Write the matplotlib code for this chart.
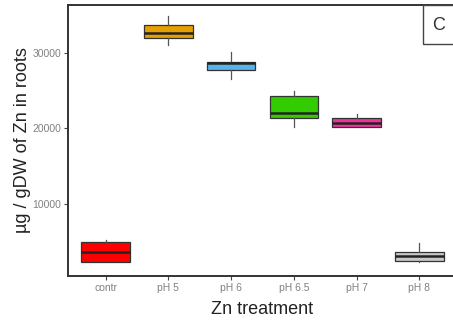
import matplotlib
matplotlib.use("Agg")
import matplotlib.pyplot as plt
from matplotlib.patches import Rectangle

# values (µg / gDW)
treatments = ["contr", "pH 5", "pH 6", "pH 6.5", "pH 7", "pH 8"]
whisk_lo = [2350, 31060, 26570, 20160, 20200, 2450]
q1 = [2430, 31940, 27760, 21420, 20200, 2560]
median = [3750, 32560, 28600, 22080, 20690, 3180]
q3 = [4990, 33610, 28810, 24290, 21420, 3750]
whisk_hi = [5290, 34840, 30050, 24910, 21910, 4850]
colors = ["#FF0000", "#E69F00", "#56B4E9", "#33CC00", "#EE3399", "#C8C8C8"]

plt.rcParams["font.family"] = ["Liberation Sans", "DejaVu Sans"]

fig = plt.figure(figsize=(4.53, 3.29), dpi=100)
W, H = 453, 329
# axes: left 68px, right ~457px (cut by the image edge), top 5px, bottom 276px
ax = fig.add_axes([68 / W, (H - 276) / H, (457 - 68) / W, (276 - 5) / H])

stats = []
for i, name in enumerate(treatments):
    stats.append(dict(label=name, whislo=whisk_lo[i], q1=q1[i], med=median[i],
                      q3=q3[i], whishi=whisk_hi[i], fliers=[]))

positions = list(range(1, len(treatments) + 1))
bp = ax.bxp(stats, positions=positions, widths=0.77, patch_artist=True,
            showcaps=False,
            boxprops=dict(edgecolor="#333333", linewidth=0.9),
            medianprops=dict(color="#222222", linewidth=1.8),
            whiskerprops=dict(color="#555555", linewidth=0.9))
for patch, c in zip(bp["boxes"], colors):
    patch.set_facecolor(c)

ax.set_xlim(0.4, 6.6)
ax.set_ylim(540, 36290)
ax.set_yticks([10000, 20000, 30000])
ax.set_xticks(positions)
ax.set_xticklabels(treatments)

ax.tick_params(axis="both", labelsize=7.5, labelcolor="#808080", color="#444444",
               length=3, width=0.8, pad=2)
for s in ax.spines.values():
    s.set_color("#333333")
    s.set_linewidth(1.4)

ax.set_xlabel("Zn treatment", fontsize=13, color="#222222", labelpad=6)
ax.set_ylabel("µg / gDW of Zn in roots", fontsize=13, color="#222222", labelpad=1)

# panel tag box
fig.patches.append(Rectangle((423 / W, (H - 44) / H), 40 / W, 39 / H,
                             transform=fig.transFigure, facecolor="white",
                             edgecolor="#444444", linewidth=1.0))
fig.text(439 / W, (H - 25) / H, "C", fontsize=13, color="#333333",
         ha="center", va="center")

fig.savefig("out.png", dpi=100)
